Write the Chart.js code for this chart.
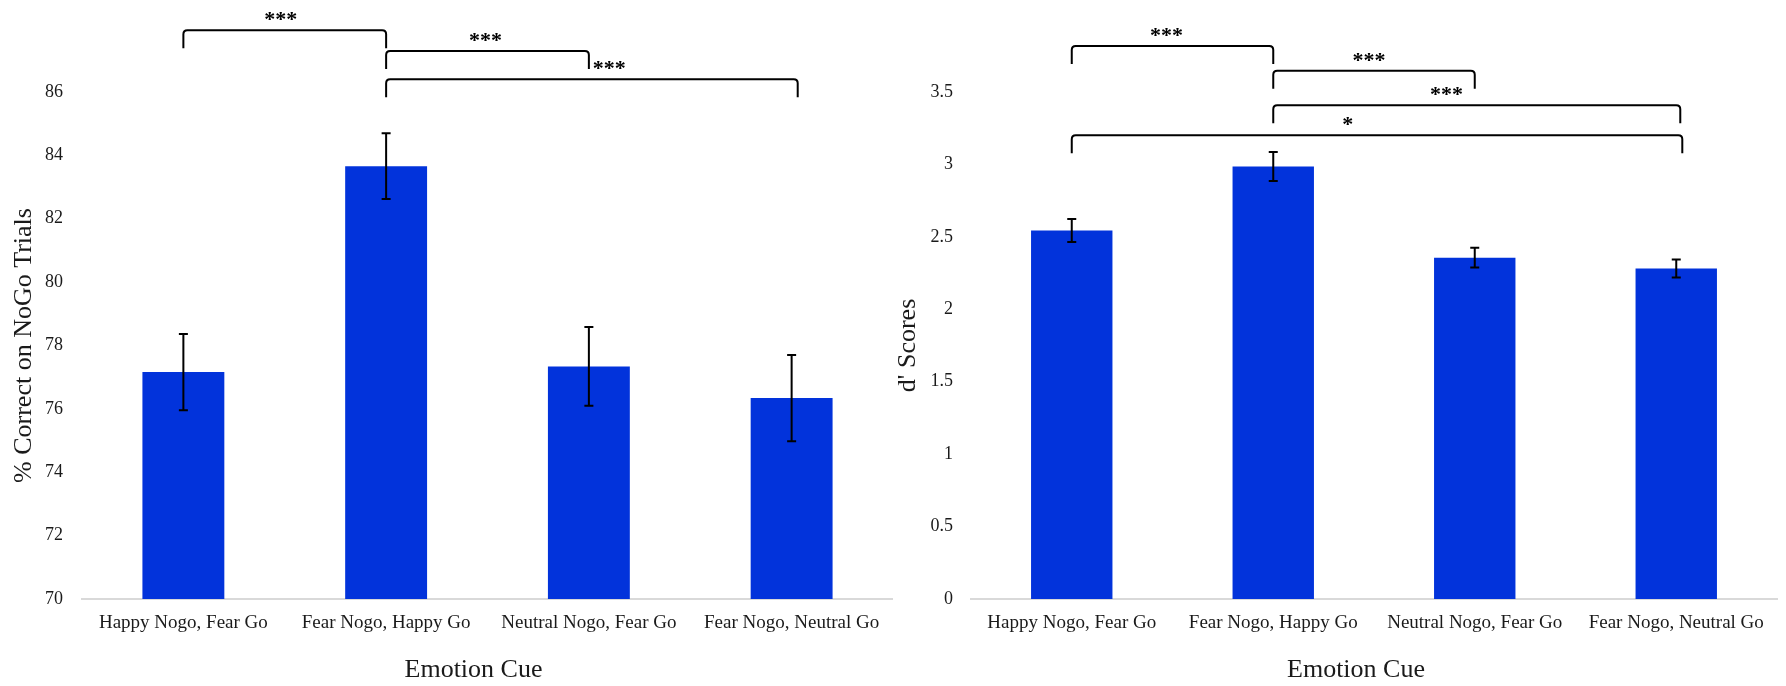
<!DOCTYPE html>
<html>
<head>
<meta charset="utf-8">
<script src="https://cdn.jsdelivr.net/npm/chart.js@4.4.1/dist/chart.umd.min.js"></script>
<style>
  html, body { margin: 0; padding: 0; background: #fff; }
  .panel { position: absolute; top: 0; width: 893px; height: 686px; }
  #left { left: 0; }
  #right { left: 893px; }
</style>
</head>
<body>
<div class="panel" id="left"><canvas id="nogoChart"></canvas></div>
<div class="panel" id="right"><canvas id="dprimeChart"></canvas></div>
<script>
var categories = ['Happy Nogo, Fear Go', 'Fear Nogo, Happy Go', 'Neutral Nogo, Fear Go', 'Fear Nogo, Neutral Go'];

// % correct on NoGo trials, mean and standard error
var nogoMeans = [77.16, 83.66, 77.34, 76.34];
var nogoErrors = [1.2, 1.04, 1.24, 1.36];

// d' scores, mean and standard error
var dprimeMeans = [2.544, 2.986, 2.356, 2.282];
var dprimeErrors = [0.08, 0.1, 0.068, 0.062];

// significance brackets: bar indexes, height in axis units, star label and where it sits
var nogoBrackets = [
    { from: 0, to: 1, level: 87.95, label: '***', at: 0.48 },
    { from: 1, to: 2, level: 87.29, label: '***', at: 1.49 },
    { from: 1, to: 3.03, level: 86.40, label: '***', at: 2.1 }
];
var dprimeBrackets = [
    { from: 0, to: 1, level: 3.818, label: '***', at: 0.47 },
    { from: 1, to: 2, level: 3.646, label: '***', at: 1.475 },
    { from: 1, to: 3.02, level: 3.409, label: '***', at: 1.86 },
    { from: 0, to: 3.03, level: 3.202, label: '*', at: 1.37 }
];

Chart.defaults.font.family = '"Liberation Serif", "Times New Roman", serif';
Chart.defaults.color = '#1a1a1a';

function catX(xScale, idx){
    var p0 = xScale.getPixelForValue(0);
    var p1 = xScale.getPixelForValue(1);
    return p0 + idx * (p1 - p0);
}

var errorBars = {
    id: 'errorBars',
    afterDatasetsDraw: function(chart, args, opts){
        var ctx = chart.ctx;
        var y = chart.scales.y;
        var means = chart.data.datasets[0].data;
        var meta = chart.getDatasetMeta(0);
        ctx.save();
        ctx.strokeStyle = '#000';
        ctx.lineWidth = 2;
        meta.data.forEach(function(bar, i){
            var top = y.getPixelForValue(means[i] + opts.errors[i]);
            var bot = y.getPixelForValue(means[i] - opts.errors[i]);
            ctx.beginPath();
            ctx.moveTo(bar.x, top); ctx.lineTo(bar.x, bot);
            ctx.moveTo(bar.x - 4.5, top); ctx.lineTo(bar.x + 4.5, top);
            ctx.moveTo(bar.x - 4.5, bot); ctx.lineTo(bar.x + 4.5, bot);
            ctx.stroke();
        });
        ctx.restore();
    }
};

var brackets = {
    id: 'brackets',
    afterDraw: function(chart, args, opts){
        var ctx = chart.ctx;
        var x = chart.scales.x;
        var y = chart.scales.y;
        var r = 4, drop = 18;
        ctx.save();
        ctx.strokeStyle = '#000';
        ctx.lineWidth = 2;
        ctx.fillStyle = '#000';
        ctx.font = 'bold 22px "Liberation Serif"';
        ctx.textAlign = 'center';
        ctx.textBaseline = 'middle';
        opts.list.forEach(function(b){
            var x1 = catX(x, b.from);
            var x2 = catX(x, b.to);
            var ly = y.getPixelForValue(b.level);
            ctx.beginPath();
            ctx.moveTo(x1, ly + drop);
            ctx.lineTo(x1, ly + r);
            ctx.quadraticCurveTo(x1, ly, x1 + r, ly);
            ctx.lineTo(x2 - r, ly);
            ctx.quadraticCurveTo(x2, ly, x2, ly + r);
            ctx.lineTo(x2, ly + drop);
            ctx.stroke();
            ctx.fillText(b.label, catX(x, b.at), ly - 10);
        });
        ctx.restore();
    }
};

// x axis title sits a little left of the plot centre
var xTitle = {
    id: 'xTitle',
    afterDraw: function(chart, args, opts){
        var ctx = chart.ctx;
        var area = chart.chartArea;
        ctx.save();
        ctx.fillStyle = '#1a1a1a';
        ctx.font = '26px "Liberation Serif"';
        ctx.textAlign = 'center';
        ctx.textBaseline = 'middle';
        ctx.fillText(opts.text, (area.left + area.right) / 2 + opts.shift, chart.height - 16);
        ctx.restore();
    }
};

function makeChart(id, means, errors, list, opt){
    return new Chart(document.getElementById(id), {
        type: 'bar',
        data: {
            labels: categories,
            datasets: [{
                data: means,
                backgroundColor: '#0233DB',
                borderWidth: 0,
                categoryPercentage: 1,
                barPercentage: 0.404
            }]
        },
        options: {
            responsive: true,
            maintainAspectRatio: false,
            animation: false,
            layout: { padding: { top: 92, left: 0, right: opt.padRight, bottom: 0 } },
            plugins: {
                legend: { display: false },
                tooltip: { enabled: false },
                errorBars: { errors: errors },
                brackets: { list: list },
                xTitle: { text: 'Emotion Cue', shift: opt.titleShift }
            },
            scales: {
                x: {
                    grid: { display: false, drawTicks: false },
                    border: { display: true, color: '#d9d9d9', width: 2 },
                    ticks: { font: { size: 19 }, padding: 13, color: '#1a1a1a', maxRotation: 0 },
                    afterFit: function(scale){ scale.height = 87; }
                },
                y: {
                    min: opt.min,
                    max: opt.max,
                    grid: { display: false, drawTicks: false },
                    border: { display: false },
                    ticks: {
                        stepSize: opt.step,
                        font: { size: 18 },
                        padding: opt.tickPad,
                        color: '#1a1a1a',
                        callback: function(v){ return String(v); }
                    },
                    title: { display: true, text: opt.title, font: { size: 26 }, padding: { top: opt.titlePad, bottom: 0 } },
                    afterFit: function(scale){ scale.width = opt.axisWidth; }
                }
            }
        },
        plugins: [errorBars, brackets, xTitle]
    });
}

makeChart('nogoChart', nogoMeans, nogoErrors, nogoBrackets, {
    min: 70, max: 86, step: 2, title: '% Correct on NoGo Trials',
    axisWidth: 82, tickPad: 19, titlePad: 9, padRight: 0, titleShift: -14
});
makeChart('dprimeChart', dprimeMeans, dprimeErrors, dprimeBrackets, {
    min: 0, max: 3.5, step: 0.5, title: "d' Scores",
    axisWidth: 78, tickPad: 18, titlePad: 0, padRight: 9, titleShift: -18
});
</script>
</body>
</html>
